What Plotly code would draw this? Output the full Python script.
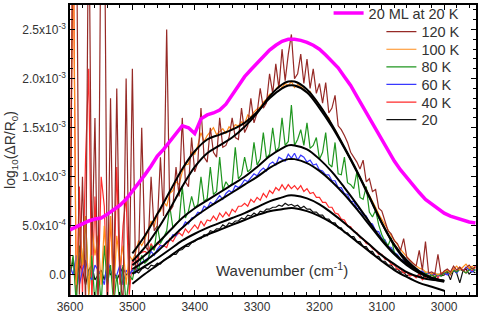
import numpy as np
import plotly.graph_objects as go

# ---------------- data (absorbance in units of 1e-4) ----------------
wn = np.arange(3600, 2949, -5)  # 3600 ... 2950 cm-1, 131 samples

d120 = [-3, 40, 40, -2, 10, -3, 40, 2, 16, -3,
        40, 40, -3, 18, -2, 19, 0, -3, 20, -1,
        21, 0.5, 1.5, 15, 3, 2.5, 10, 4.5, 5, 12,
        6, 25, 6.5, 7, 11, 8, 16, 9.5, 9, 14,
        10.5, 11.5, 17, 12, 11.5, 15, 12.5, 12, 16, 13,
        13.2, 14, 16, 14, 13.8, 17, 14.5, 15.2, 18, 15.5,
        16.5, 19, 17, 17.5, 20.5, 18.5, 21.5, 19, 23, 19.8,
        22.5, 24.5, 20, 20.5, 22.5, 19.5, 22, 19, 21, 18.5,
        19.5, 17.5, 19.6, 16.5, 17, 18.3, 15.2, 14.8, 14.2, 13.5,
        12.5, 12, 11.5, 10.8, 11.7, 9.5, 9.8, 8.5, 8.7, 6.8,
        6.5, 5.5, 4.5, 4.2, 3.5, 3.2, 2.5, 3.7, 1.8, 1.5,
        1.2, 0.9, 2.5, 0.5, 3.4, 0.2, 0.3, 0.1, 2.1, 0.0,
        0.4, 0.6, 0.3, 0.9, 0.5, 0.8, 0.4, 0.7, 1.0, 0.6, 0.8]

d100 = [3, 35, -1, 5, 1, 6, -2, 5, 2, 4,
        -1, 5, 0, 6, -2, 4, 1, 3, -1, 2,
        1.5, 2.2, 3.5, 3.0, 3.6, 4.6, 5.5, 4.9, 6.3, 6.5,
        7.5, 7.0, 8.3, 8.6, 9.5, 9.2, 10.5, 11.2, 11.3, 12.5,
        12.3, 13.2, 14.5, 13.6, 14.2, 14.6, 15, 14.3, 14.6, 14.9,
        14.4, 15.1, 14.8, 15.3, 15.2, 15.6, 15.4, 16.3, 16.1, 16.6,
        16.9, 17.1, 17.6, 17.9, 18.4, 18.5, 18.9, 19.3, 19.1, 19.5,
        19.3, 19.7, 19.1, 19.4, 19.2, 18.9, 18.6, 18.7, 18.0, 17.8,
        17.2, 16.9, 16.3, 16.0, 15.2, 14.8, 14.2, 13.6, 12.9, 12.3,
        11.7, 11.2, 10.5, 9.9, 9.4, 8.8, 8.1, 7.5, 6.9, 6.2,
        5.7, 5.1, 4.6, 4.0, 3.6, 3.1, 2.6, 2.2, 1.9, 1.5,
        1.2, 0.9, 0.7, 0.6, 0.3, 0.3, 0.1, 0.2, 0.0, 0.2,
        0.3, 0.5, 0.2, 0.6, 0.9, 0.5, 0.8, 1.1, 0.7, 0.9, 0.6]

d80 = [0, 2, -3, 3, 1, 6, -2, 2, -3, 1,
       -3, 3, -1, 1, -3, 0, -3, 1, -3, 0,
       -0.5, 1, 0.5, 2, 1.2, 1.5, 3, 2.5, 5, 3.2,
       3.8, 4.5, 7, 4.8, 5.2, 5.5, 9, 5.8, 6.5, 8,
       6.8, 7.2, 10, 7.5, 7.8, 11, 8.2, 8.5, 12, 8.6,
       9.5, 9, 9.3, 13, 9.8, 10.2, 12, 10.5, 10.8, 13.5,
       11.2, 11.8, 14.5, 11.9, 12.3, 15, 12.6, 13, 16, 13.2,
       13.6, 17.3, 13.2, 13.8, 14.8, 13.2, 15.5, 12.9, 13.2, 14,
       11.8, 12.5, 14.5, 11.3, 11.0, 13.5, 10.3, 10.2, 12, 9.4,
       9.2, 8.8, 10.5, 7.9, 7.7, 9, 6.4, 5.9, 6.6, 5.1,
       4.1, 3.4, 3.0, 3.8, 2.3, 1.9, 1.6, 1.3, 1.1, 0.8,
       0.6, 0.4, 0.3, 0.1, 0.2, -0.1, 0.0, -0.2, 0.1, -0.1,
       0.2, 0.4, 0.1, 0.5, 0.3, 0.6, 0.4, 0.2, 0.5, 0.7, 0.4]

d60 = [1, 0, 2, -1, 0.5, 1.5, 0, -0.5, 1, 0.5,
       0, -1, 1.5, 0.5, -0.5, 0, 1, -1, 0.5, 0,
       0.5, 0.2, 1.1, 1.3, 1.5, 1.7, 2.4, 2.0, 2.6, 3.0,
       2.9, 3.4, 3.5, 4.1, 4.0, 4.6, 4.8, 5.4, 5.2, 5.8,
       5.9, 6.4, 6.3, 7.0, 6.8, 7.4, 7.2, 7.7, 8.1, 7.7,
       8.3, 8.6, 8.4, 9.1, 8.9, 9.2, 9.7, 9.5, 9.9, 10.3,
       10.1, 10.6, 10.9, 10.6, 11.3, 11.5, 11.2, 12.0, 11.8, 11.6,
       12.3, 11.9, 12.4, 11.7, 12.2, 12.0, 11.5, 11.7, 11.2, 11.3,
       10.7, 10.6, 10.2, 10.2, 9.6, 9.6, 8.9, 8.9, 8.3, 8.2,
       7.5, 7.5, 6.8, 6.7, 6.1, 6.0, 5.3, 5.2, 4.5, 4.4,
       3.7, 3.6, 2.9, 2.8, 2.3, 2.1, 1.6, 1.5, 1.0, 0.9,
       0.6, 0.5, 0.3, 0.4, 0.1, 0.2, 0.0, 0.1, -0.1, 0.1,
       0.2, 0.0, 0.3, 0.5, 0.2, 0.6, 0.4, 0.8, 0.5, 0.3, 0.6]

d40 = [4, 38, -3, 9, -2, 12, 21, -3, 8, -2,
       10, 7, -3, 6, -2, 11, -1, 5, 8, -2,
       1.5, 1.1, 2.1, 2.3, 2.4, 2.2, 3.2, 2.6, 3.3, 3.0,
       3.0, 2.8, 3.7, 3.4, 4.0, 4.3, 4.0, 4.7, 4.3, 4.7,
       5.1, 4.7, 5.5, 5.0, 5.6, 5.5, 6.0, 5.6, 6.3, 5.9,
       6.4, 6.0, 6.7, 6.4, 7.0, 7.0, 7.3, 7.0, 7.7, 7.4,
       7.9, 7.6, 8.3, 7.9, 8.6, 8.3, 8.9, 8.6, 9.2, 8.7,
       9.2, 8.8, 9.1, 8.7, 9.1, 8.5, 8.8, 8.3, 8.4, 7.9,
       7.9, 7.4, 7.4, 6.9, 6.9, 6.3, 6.2, 5.7, 5.6, 5.0,
       4.9, 4.4, 4.3, 3.8, 3.7, 3.2, 3.1, 2.7, 2.5, 2.1,
       2.1, 1.6, 1.5, 1.1, 1.0, 0.6, 0.6, 0.2, 0.3, -0.1,
       0.0, -0.3, 0.1, -0.5, -0.2, 0.0, -0.4, 0.1, -0.3, 0.2,
       0.1, 0.4, 0.0, 0.6, 0.3, 0.8, 0.5, 0.2, 0.7, 0.4, 0.9]

d20 = [0, 1.5, -0.5, 1, 0.5, -1, 0.5, 1, -0.5, 0,
       0.5, -0.5, 1, 0, 0.5, -0.5, 0.2, 0.8, 0, 0.3,
       0.2, 0.4, 0.2, 0.6, 0.8, 0.6, 1.0, 0.9, 1.2, 1.1,
       1.5, 1.7, 1.8, 2.1, 2.1, 2.5, 2.6, 2.9, 2.9, 3.3,
       3.4, 3.7, 3.7, 4.1, 4.0, 4.5, 4.4, 4.7, 4.7, 5.1,
       4.9, 5.3, 5.2, 5.5, 5.5, 5.8, 5.7, 6.1, 6.0, 6.3,
       6.1, 6.5, 6.4, 6.7, 6.7, 6.9, 6.9, 7.1, 7.0, 7.3,
       7.1, 7.2, 7.0, 7.1, 6.8, 7.0, 6.7, 6.7, 6.4, 6.4,
       6.1, 6.1, 5.7, 5.7, 5.3, 5.3, 4.8, 4.8, 4.3, 4.3,
       3.9, 3.9, 3.4, 3.4, 2.9, 2.9, 2.4, 2.4, 1.9, 1.9,
       1.4, 1.4, 1.0, 1.0, 0.6, 0.6, 0.3, 0.3, -0.1, 0.1,
       0.0, -0.2, 0.1, -0.3, 0.0, -0.2, 0.1, -0.3, 0.0, -0.1,
       0.0, 0.3, -0.5, 0.5, 0.2, -0.8, 0.4, 0.6, 0.1, 0.4, 0.2]

# 20 ML film at 20 K
wn_ml = np.arange(3600, 2949, -10)
d_ml = [4.6, 4.9, 5.2, 5.5, 5.7, 5.8, 6.2, 6.6, 7.1, 7.7,
        8.5, 9.3, 10.2, 11.1, 12.1, 12.8, 13.6, 14.4, 15.2, 15.0,
        14.4, 15.9, 16.3, 16.5, 16.8, 17.4, 18.3, 19.3, 20.2, 20.9,
        21.6, 22.3, 22.9, 23.4, 23.8, 24.0, 24.0, 23.9, 23.7, 23.4,
        23.0, 22.4, 21.8, 21.1, 20.2, 19.3, 18.2, 17.1, 16.0, 14.8,
        13.7, 12.6, 11.6, 10.7, 9.9, 9.1, 8.4, 7.7, 7.2, 6.7,
        6.3, 6.0, 5.8, 5.6, 5.4, 5.3]

# fitted curves
wn_fit = [3500, 3480, 3460, 3440, 3420, 3400, 3380, 3360, 3340, 3320, 3300, 3280,
          3260, 3250, 3240, 3220, 3200, 3180, 3160, 3140, 3120, 3100, 3080, 3060,
          3040, 3020, 3000]
f120 = [1.4, 2.8, 4.6, 6.7, 9.0, 11.0, 12.4, 13.2, 14.0, 15.1, 16.5, 18.2, 19.4, 19.7,
        19.7, 18.9, 17.3, 15.3, 13.0, 10.6, 8.0, 5.3, 3.0, 1.3, 0.3, -0.4, -0.7]
f100 = [2.2, 4.0, 6.2, 8.5, 10.8, 12.6, 13.8, 14.3, 14.8, 15.5, 16.6, 18.0, 19.0, 19.3,
        19.3, 18.6, 17.0, 15.1, 12.9, 10.5, 7.9, 5.3, 3.1, 1.5, 0.4, -0.3, -0.6]
f80 = [1.0, 2.0, 3.2, 4.5, 5.8, 6.8, 7.6, 8.4, 9.2, 10.0, 11.0, 12.1, 12.9, 13.2,
       13.2, 12.8, 11.8, 10.5, 8.9, 7.2, 5.4, 3.6, 2.2, 1.1, 0.3, -0.3, -0.6]
f60 = [0.6, 1.4, 2.4, 3.6, 4.8, 5.9, 6.8, 7.6, 8.4, 9.2, 10.0, 10.9, 11.6, 11.8,
       11.8, 11.4, 10.6, 9.5, 8.2, 6.7, 5.1, 3.5, 2.1, 1.0, 0.2, -0.3, -0.6]
f40 = [0.1, 0.9, 1.7, 2.6, 3.5, 4.2, 4.8, 5.3, 5.8, 6.3, 6.9, 7.5, 7.9, 8.1,
       8.1, 7.8, 7.2, 6.3, 5.3, 4.2, 3.1, 2.0, 1.1, 0.3, -0.2, -0.5, -0.6]
f20 = [-0.9, 0.1, 1.0, 1.9, 2.8, 3.5, 4.1, 4.6, 5.1, 5.6, 6.1, 6.5, 6.7, 6.8,
       6.8, 6.5, 6.0, 5.3, 4.4, 3.4, 2.4, 1.4, 0.5, -0.2, -0.8, -1.2, -1.6]

names = ["120 K", "100 K", "80 K", "60 K", "40 K", "20"]
series = [d120, d100, d80, d60, d40, d20]
fits = [f120, f100, f80, f60, f40, f20]
colors = ["#962a26", "#ff8c1a", "#1f961f", "#3838ff", "#ff2a2a", "#111111"]

x_ticks = [3600, 3500, 3400, 3300, 3200, 3100, 3000]
y_ticks = [0, 5e-4, 1e-3, 1.5e-3, 2e-3, 2.5e-3]
y_ticktext = ["0.0", "5.0x10<sup>-4</sup>", "1.0x10<sup>-3</sup>", "1.5x10<sup>-3</sup>",
              "2.0x10<sup>-3</sup>", "2.5x10<sup>-3</sup>"]

SCALE = 1e-4
FONT = "Liberation Sans, Arial, sans-serif"

# plot-area geometry in pixels (for legend placement)
PLOT_TOP, PLOT_H, PLOT_L, PLOT_W = 5, 290, 70, 406
legend_rows_px = [31.7, 49.3, 66.9, 84.5, 102.1, 119.7]   # row centres of the T-series legend
legend_ml_row_px = 13.0

fig = go.Figure()

# noisy spectra (drawn from 20 up to 120 K so that 120 K lies on top)
for i in reversed(range(len(names))):
    fig.add_trace(go.Scatter(
        x=wn, y=np.array(series[i]) * SCALE, mode="lines", name=names[i],
        line=dict(color=colors[i], width=1.2), legend=f"legend{i + 2}"))

fig.add_trace(go.Scatter(
    x=wn_ml, y=np.array(d_ml) * SCALE, mode="lines", name="20 ML at 20 K",
    line=dict(color="#ff00ff", width=3.5), legend="legend"))

for f in fits:
    fig.add_trace(go.Scatter(
        x=wn_fit, y=np.array(f) * SCALE, mode="lines", showlegend=False,
        line=dict(color="black", width=2, shape="spline")))

fig.add_annotation(x=3260, y=0.6e-4, xref="x", yref="y",
                   text="Wavenumber (cm<sup>-1</sup>)", showarrow=False,
                   font=dict(family=FONT, size=15, color="#333333"))

axis_common = dict(showline=True, linecolor="black", linewidth=1.5, mirror="ticks",
                   ticks="inside", ticklen=5, tickcolor="black", showgrid=False,
                   zeroline=False, tickfont=dict(family=FONT, size=12, color="#333333"))

legend_font = dict(family=FONT, size=14.5, color="#333333")


def legend_box(xpx, ypx):
    return dict(x=(xpx - PLOT_L) / PLOT_W, y=1 - (ypx - PLOT_TOP) / PLOT_H,
                xanchor="left", yanchor="middle", bgcolor="rgba(0,0,0,0)",
                font=legend_font, itemwidth=30)


legends = {"legend": legend_box(328.6, legend_ml_row_px)}
for i, ypx in enumerate(legend_rows_px):
    legends[f"legend{i + 2}"] = legend_box(381.4, ypx)

fig.update_layout(
    width=481, height=322,
    margin=dict(l=70, r=5, t=5, b=27, autoexpand=False),
    plot_bgcolor="white", paper_bgcolor="white",
    font=dict(family=FONT, color="#333333"),
    xaxis=dict(range=[3600, 2949], tickvals=x_ticks,
               minor=dict(dtick=20, tick0=3600, ticks="inside", ticklen=3, tickcolor="black"),
               **axis_common),
    yaxis=dict(range=[-2.04e-4, 2.75e-3], tickvals=y_ticks, ticktext=y_ticktext,
               minor=dict(dtick=1e-4, tick0=0, ticks="inside", ticklen=3, tickcolor="black"),
               title=dict(text="log<sub>10</sub>(ΔR/R<sub>0</sub>)",
                          font=dict(family=FONT, size=14, color="#333333"), standoff=3),
               **axis_common),
    **legends,
)

fig.write_html("out.html")
